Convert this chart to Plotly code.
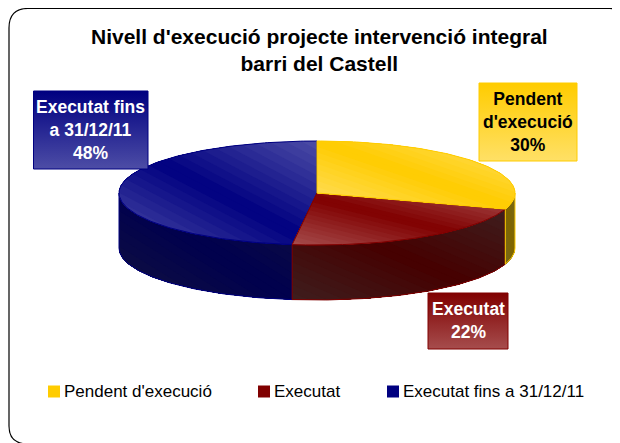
import numpy as np
import plotly.graph_objects as go

categories = ["Pendent d'execució", "Executat", "Executat fins a 31/12/11"]
values = [30, 22, 48]
label_lines = [["Pendent", "d'execució"], ["Executat"], ["Executat fins", "a 31/12/11"]]
title_lines = ["Nivell d'execució projecte intervenció integral", "barri del Castell"]

FONT = "Liberation Sans"
W, H = 620, 443
PAGE_MARGIN = 8  # the browser's default body margin offsets the plot
CX, CY, RX, RY, DEPTH = 317, 193, 198, 52, 55
BASE = [(255, 204, 0), (128, 0, 0), (0, 0, 128)]
LIGHT = [(255, 224, 102), (166, 77, 77), (77, 77, 166)]
SIDE_CORE = [(128, 102, 0), (70, 0, 0), (0, 0, 78)]
SIDE_EDGE = [(118, 104, 30), (62, 30, 30), (18, 18, 62)]
OUTLINE = ["rgb(255,204,0)", "rgb(128,0,0)", "rgb(0,0,128)"]
LABEL_TEXT = ["black", "white", "white"]
LABEL_BOX = [(479, 577, 83, 161), (428, 508, 293, 349), (33.5, 148, 91, 169)]
LEGEND_X = [48, 258, 387]
LEGEND_Y = 391.5
NBANDS = 24

fig = go.Figure()


def mix(a, b, t):
    return "rgb(%d,%d,%d)" % tuple(round(x + (y - x) * t) for x, y in zip(a, b))


def clip(poly, nx, ny, c):
    """Keep the part of a polygon where nx*x + ny*y >= c."""
    d = poly[:, 0] * nx + poly[:, 1] * ny - c
    out = []
    for i in range(len(poly)):
        j = (i + 1) % len(poly)
        if d[i] >= 0:
            out.append(poly[i])
        if d[i] * d[j] < 0:
            out.append(poly[i] + (poly[j] - poly[i]) * d[i] / (d[i] - d[j]))
    return np.array(out) if len(out) >= 3 else None


def add_poly(poly, color=None, line=None):
    fig.add_trace(go.Scatter(
        x=np.append(poly[:, 0], poly[0, 0]), y=np.append(poly[:, 1], poly[0, 1]),
        mode="lines", fill="toself" if color else "none", fillcolor=color,
        line=dict(color=line or "rgba(0,0,0,0)", width=1 if line else 0),
        hoverinfo="skip", showlegend=False))


def shaded_face(poly, core, edge, outline):
    """Two-sided diagonal gradient along the diagonal of the face's bounding box."""
    x0, y0 = poly.min(axis=0)
    x1, y1 = poly.max(axis=0)
    bw, bh = x1 - x0, y1 - y0
    nx, ny = -bh, bw
    ln = np.hypot(nx, ny)
    nx, ny = nx / ln, ny / ln
    mx, my = (x0 + x1) / 2, (y0 + y1) / 2
    reach = abs((x1 - mx) * nx) + abs((y1 - my) * ny)
    for lv in np.linspace(-1, 1, NBANDS, endpoint=False):
        part = clip(poly, nx, ny, mx * nx + my * ny + lv * reach)
        if part is not None:
            add_poly(part, mix(core, edge, abs(lv + 1 / NBANDS)))
    add_poly(poly, None, outline)


total = sum(values)
edges = np.cumsum([0] + values) / total * 2 * np.pi


def rim(a0, a1, dy=0.0):
    a = np.linspace(a0, a1, max(3, int((a1 - a0) * 60)))
    return np.column_stack([CX + RX * np.sin(a), CY - RY * np.cos(a) + dy])


# sides: only the front half of the rim (90 to 270 degrees) is visible
for i in [2, 1, 0]:
    a0, a1 = max(edges[i], np.pi / 2), min(edges[i + 1], 3 * np.pi / 2)
    if a1 > a0:
        poly = np.vstack([rim(a0, a1), rim(a0, a1, DEPTH)[::-1]])
        shaded_face(poly, SIDE_CORE[i], SIDE_EDGE[i], OUTLINE[i])

# top faces
for i in [2, 1, 0]:
    poly = np.vstack([[[CX, CY]], rim(edges[i], edges[i + 1])])
    shaded_face(poly, BASE[i], LIGHT[i], OUTLINE[i])

# data label boxes (base colour at the top, lighter towards the bottom)
for i, (x0, x1, y0, y1) in enumerate(LABEL_BOX):
    fig.add_trace(go.Scatter(
        x=[x0, x1, x1, x0, x0], y=[y0, y0, y1, y1, y0], mode="lines", fill="toself",
        fillgradient=dict(type="vertical", colorscale=[[0, mix(BASE[i], LIGHT[i], 1)], [1, mix(BASE[i], LIGHT[i], 0)]]),
        line=dict(color=OUTLINE[i], width=1), hoverinfo="skip", showlegend=False))
    lines = label_lines[i] + ["%d%%" % values[i]]
    fig.add_annotation(x=(x0 + x1) / 2, y=(y0 + y1) / 2 - 0.5, text="<b>" + "<br>".join(lines) + "</b>",
                       showarrow=False, align="center",
                       font=dict(family=FONT, size=17.5, color=LABEL_TEXT[i]))

# legend
for i, name in enumerate(categories):
    fig.add_trace(go.Scatter(
        x=[LEGEND_X[i] + 6], y=[LEGEND_Y], mode="markers", name=name,
        marker=dict(symbol="square", size=12, color=mix(BASE[i], BASE[i], 0)),
        hoverinfo="skip", showlegend=False))
    fig.add_annotation(x=LEGEND_X[i] + 14, y=LEGEND_Y - 0.5, text=name, showarrow=False, xanchor="left",
                       font=dict(family=FONT, size=17, color="black"))

# title
fig.add_annotation(x=319, y=50, text="<b>" + "<br>".join(title_lines) + "</b>", showarrow=False,
                   align="center", font=dict(family=FONT, size=21, color="black"))

# chart-area frame (its right and bottom edges run off the page)
border = ("M 9,28 Q 9,8.5 28,8.5 L 610,8.5 Q 628,8.5 628,26 L 628,426 Q 628,444 610,444 "
          "L 28,444 Q 9,444 9,426 Z")
fig.add_shape(type="path", path=border, xref="x", yref="y", line=dict(color="black", width=1.2),
              fillcolor="rgba(0,0,0,0)", layer="below")

fig.update_layout(
    width=W - PAGE_MARGIN, height=H - PAGE_MARGIN, margin=dict(l=0, r=0, t=0, b=0),
    paper_bgcolor="white", plot_bgcolor="white", showlegend=False,
    xaxis=dict(range=[PAGE_MARGIN, W], visible=False, fixedrange=True),
    yaxis=dict(range=[H, PAGE_MARGIN], visible=False, fixedrange=True),
)
fig.write_html("out.html", config={"displayModeBar": False})
